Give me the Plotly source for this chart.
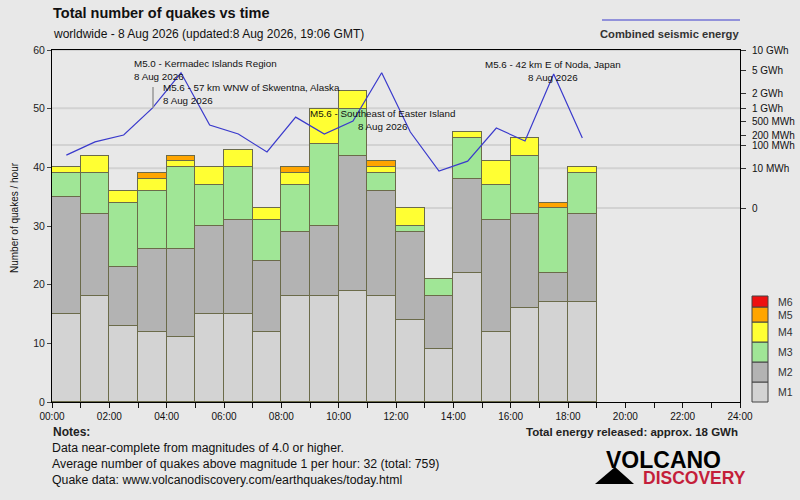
import plotly.graph_objects as go

# ---------------- data ----------------
HOURS = list(range(19))                      # hour bins that have data (00-01 ... 18-19)
M1 = [15, 18, 13, 12, 11, 15, 15, 12, 18, 18, 19, 18, 14, 9, 22, 12, 16, 17, 17]
M2 = [20, 14, 10, 14, 15, 15, 16, 12, 11, 12, 23, 18, 15, 9, 16, 19, 16, 5, 15]
M3 = [4, 7, 11, 10, 14, 7, 9, 7, 8, 14, 8, 3, 1, 3, 7, 6, 10, 11, 7]
M4 = [1, 3, 2, 2, 1, 3, 3, 2, 2, 6, 3, 1, 3, 0, 1, 4, 3, 0, 1]
M5 = [0, 0, 0, 1, 1, 0, 0, 0, 1, 0, 0, 1, 0, 0, 0, 0, 0, 1, 0]
M6 = [0] * 19
ENERGY_MWH = [42, 128, 210, 1010, 4590, 400, 225, 56, 630, 225, 505, 4590,
              257, 7, 23, 333, 137, 4380, 170]

MAGS = ["M1", "M2", "M3", "M4", "M5", "M6"]
MAG_COLORS = ["#d3d3d3", "#b3b3b3", "#a0e696", "#ffff33", "#ffa500", "#ee1111"]

XTICK_VALS = list(range(25))
XTICK_TEXT = [f"{h:02d}:00" if h % 2 == 0 else "" for h in XTICK_VALS]

E_TICK_MWH = [10000, 5000, 2000, 1000, 500, 200, 100, 10, 0]
E_TICK_TEXT = ["10 GWh", "5 GWh", "2 GWh", "1 GWh", "500 MWh", "200 MWh",
               "100 MWh", "10 MWh", "0"]
E_MAJOR_MWH = [10000, 1000, 100, 10, 0]

QUAKE_LABELS = [
    ("M5.0 - Kermadec Islands Region<br>8 Aug 2026", 132, 70, "left"),
    ("M5.6 - 57 km WNW of Skwentna, Alaska<br>8 Aug 2026", 161, 94, "left"),
    ("M5.6 - Southeast of Easter Island<br>8 Aug 2026", 382, 120, "center"),
    ("M5.6 - 42 km E of Noda, Japan<br>8 Aug 2026", 553, 71, "center"),
]

NOTES = [
    "Data near-complete from magnitudes of 4.0 or higher.",
    "Average number of quakes above magnitude 1 per hour: 32 (total: 759)",
    "Quake data: www.volcanodiscovery.com/earthquakes/today.html",
]

# ---------------- geometry helpers (pixel -> paper) ----------------
L, R, T, B = 52, 740, 50, 402
W, H = R - L, B - T


def px(x):
    return (x - L) / W


def py(y):
    return (B - y) / H


P = 0.2  # right axis is linear in energy**0.2
E_TOP = 10000 ** P
E_BOTTOM = -(B - 208) / ((208 - T) / E_TOP)

FONT = "Liberation Sans, Arial, sans-serif"
BG = "#e8e8e8"

fig = go.Figure()

xs = [h + 0.5 for h in HOURS]
for name, vals, col in zip(MAGS, [M1, M2, M3, M4, M5, M6], MAG_COLORS):
    fig.add_trace(go.Bar(
        x=xs, y=[v if v else None for v in vals], width=1, name=name,
        marker=dict(color=col, line=dict(color="#6b6b4a", width=1.3)),
        showlegend=False, hoverinfo="skip",
    ))

fig.add_trace(go.Scatter(
    x=xs, y=[e ** P for e in ENERGY_MWH], yaxis="y2", mode="lines",
    line=dict(color="#3a3acc", width=1.2), showlegend=False, hoverinfo="skip",
))

shapes = []
# decade grid lines on energy axis (below bars)
for e in E_MAJOR_MWH:
    shapes.append(dict(type="line", xref="paper", yref="y2", x0=0, x1=1,
                       y0=e ** P, y1=e ** P, layer="below",
                       line=dict(color="#d2d2d2", width=2)))
# connector for Skwentna label
shapes.append(dict(type="line", xref="paper", yref="paper",
                   x0=px(153), x1=px(153), y0=py(87), y1=py(108),
                   line=dict(color="#999999", width=1.5)))
# energy legend line
shapes.append(dict(type="line", xref="paper", yref="paper",
                   x0=px(602), x1=px(740), y0=py(20), y1=py(20),
                   line=dict(color="#3a3acc", width=1)))
# magnitude legend boxes
edges = [402, 382, 362, 342, 322, 307, 296]
for i, col in enumerate(MAG_COLORS):
    shapes.append(dict(type="rect", xref="paper", yref="paper",
                       x0=px(752), x1=px(768), y0=py(edges[i]), y1=py(edges[i + 1]),
                       fillcolor=col, line=dict(color="#444444", width=1)))
# logo triangle
shapes.append(dict(type="path", xref="paper", yref="paper",
                   path=f"M {px(595)},{py(484)} L {px(634)},{py(484)} L {px(615)},{py(467)} Z",
                   fillcolor="#000000", line=dict(width=0)))

ann = []


def note(text, x, y, xanchor="left", size=10, color="#111", family=FONT, **kw):
    ann.append(dict(text=text, x=px(x), y=py(y), xref="paper", yref="paper",
                    xanchor=xanchor, yanchor="middle", showarrow=False,
                    font=dict(size=size, color=color, family=family), **kw))


note("<b>Total number of quakes vs time</b>", 51, 13, size=14.5)
note("worldwide - 8 Aug 2026 (updated:8 Aug 2026, 19:06 GMT)", 51, 34, size=12)
note("<b>Combined seismic energy</b>", 741, 34, xanchor="right", size=11.2, color="#333")
note("Number of quakes / hour", 14, 218, xanchor="center", size=10, textangle=-90)
for text, x, y, al in QUAKE_LABELS:
    note(text, x, y, xanchor=al, size=9.8, align=al)
for i, name in enumerate(MAGS):
    note(name, 776, (edges[i] + edges[i + 1]) / 2, size=10.5, color="#333")
note("<b>Notes:</b>", 51, 432, size=12, color="#222")
for i, t in enumerate(NOTES):
    note(t, 50, 448 + 16 * i, size=12.3)
note("<b>Total energy released: approx. 18 GWh</b>", 740, 432, xanchor="right",
     size=11.5, color="#222")
note("<b>VOLCANO</b>", 604, 460, size=23, color="#000", family="Liberation Sans, Arial")
note("<b>DISCOVERY</b>", 641, 478, size=17.5, color="#c41e3a", family="Liberation Sans, Arial")

fig.update_layout(
    width=800, height=500, autosize=False,
    margin=dict(l=L, r=800 - R, t=T, b=500 - B, autoexpand=False),
    paper_bgcolor=BG, plot_bgcolor=BG,
    barmode="stack", bargap=0,
    shapes=shapes, annotations=ann,
    font=dict(family=FONT, color="#111"),
    xaxis=dict(range=[0, 24], tickmode="array", tickvals=XTICK_VALS, ticktext=XTICK_TEXT,
               ticks="outside", ticklen=5, tickcolor="#111", showgrid=False,
               showline=True, linecolor="#000", linewidth=1, mirror=True,
               tickfont=dict(size=10, color="#111"), zeroline=False, automargin=False),
    xaxis2=dict(range=[0, 24], overlaying="x", anchor="y", side="bottom",
                tickmode="array", tickvals=XTICK_VALS, ticks="inside", ticklen=5,
                tickcolor="#111", showticklabels=False, showgrid=False,
                showline=False, zeroline=False, automargin=False),
    yaxis=dict(range=[0, 60], dtick=10, ticks="outside", ticklen=4, tickcolor="#444",
               showgrid=False, showline=True, linecolor="#000", linewidth=1,
               zeroline=False, tickfont=dict(size=10.5, color="#222"), automargin=False),
    yaxis2=dict(range=[E_BOTTOM, E_TOP], overlaying="y", side="right", anchor="x",
                tickmode="array", tickvals=[e ** P for e in E_TICK_MWH],
                ticktext=E_TICK_TEXT, ticks="outside", ticklen=5, tickcolor="#333",
                showgrid=False, showline=True, linecolor="#000", linewidth=1,
                zeroline=False, tickfont=dict(size=10, color="#111"), automargin=False,
                ticklabelstandoff=4),
    yaxis3=dict(range=[E_BOTTOM, E_TOP], overlaying="y", side="right", anchor="x",
                tickmode="array", tickvals=[e ** P for e in E_TICK_MWH],
                ticks="inside", ticklen=5, tickcolor="#555", showticklabels=False,
                showgrid=False, showline=False, zeroline=False, automargin=False),
)

fig.write_html("out.html", config={"displayModeBar": False},
               post_script="document.body.style.margin='0';")
